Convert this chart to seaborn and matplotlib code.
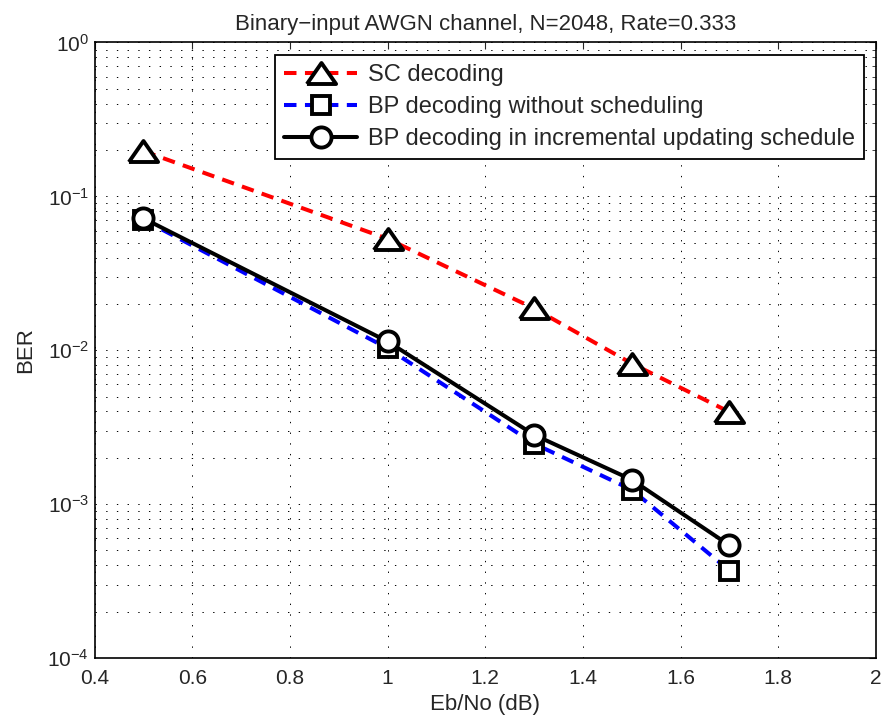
import numpy as np
import pandas as pd
import matplotlib
matplotlib.use("Agg")
import matplotlib.pyplot as plt
import seaborn as sns
from matplotlib.ticker import LogLocator, NullFormatter, FixedLocator

ebno = [0.5, 1.0, 1.3, 1.5, 1.7]
ber_sc = [0.197, 0.053, 0.0187, 0.0082, 0.00397]
ber_bp = [0.0705, 0.0103, 0.00247, 0.00124, 0.00037]
ber_inc = [0.072, 0.0114, 0.00282, 0.00144, 0.00054]
labels = ["SC decoding", "BP decoding without scheduling",
          "BP decoding in incremental updating schedule"]
xticks = [0.4, 0.6, 0.8, 1, 1.2, 1.4, 1.6, 1.8, 2]
xticklabels = ["0.4", "0.6", "0.8", "1", "1.2", "1.4", "1.6", "1.8", "2"]

sns.set_style("white")
plt.rcParams['font.family'] = ['Liberation Sans', 'DejaVu Sans']
plt.rcParams['font.size'] = 15
plt.rcParams['mathtext.fontset'] = 'custom'
plt.rcParams['mathtext.rm'] = 'Liberation Sans'
plt.rcParams['mathtext.it'] = 'Liberation Sans'
plt.rcParams['mathtext.default'] = 'regular'

fig = plt.figure(figsize=(8.85, 7.25), dpi=100)
ax = fig.add_axes([0.1068, 0.0924, 0.883, 0.849])

df = pd.DataFrame({"x": ebno * 3,
                   "y": ber_sc + ber_bp + ber_inc,
                   "s": [labels[0]] * 5 + [labels[1]] * 5 + [labels[2]] * 5})

tri = [(-1, -0.72), (1, -0.72), (0, 0.72), (-1, -0.72)]
dash = (0, (3.1, 2.1))
styles = [("red", tri, dash, 21), ("blue", "s", dash, 13), ("black", "o", "-", 14.5)]
for lab, (c, m, ls, ms) in zip(labels, styles):
    sub = df[df.s == lab]
    sns.lineplot(data=sub, x="x", y="y", ax=ax, color=c, linewidth=2.9,
                 linestyle=ls, marker=m, markersize=ms, markerfacecolor="white",
                 markeredgecolor="black", markeredgewidth=2.8, label=lab,
                 estimator=None, sort=False)

ax.set_yscale("log")
ax.set_xlim(0.4, 2)
ax.set_ylim(1e-4, 1)
ax.xaxis.set_major_locator(FixedLocator(xticks))
ax.set_xticklabels(xticklabels)
ax.yaxis.set_major_locator(LogLocator(base=10, numticks=10))
ax.yaxis.set_minor_locator(LogLocator(base=10, subs=np.arange(2, 10), numticks=50))
ax.yaxis.set_minor_formatter(NullFormatter())
ax.tick_params(which="both", direction="in", top=True, right=True, labelsize=15)
ax.tick_params(which="major", length=5, width=0.8)
ax.tick_params(which="minor", length=3, width=0.6)
ax.tick_params(axis="x", which="major", pad=8)
ax.tick_params(axis="y", which="major", pad=4)
grid_ls = (0, (1.4, 9.6))
ax.grid(True, which="major", axis="both", color="black", linestyle=grid_ls, linewidth=0.7)
ax.grid(True, which="minor", axis="y", color="black", linestyle=grid_ls, linewidth=0.7)
for sp in ax.spines.values():
    sp.set_color("black")
    sp.set_linewidth(1.2)

ax.set_title("Binary\u2212input AWGN channel, N=2048, Rate=0.333", fontsize=16, pad=9)
ax.set_xlabel("Eb/No (dB)", fontsize=16, labelpad=4)
ax.set_ylabel("BER", fontsize=16, labelpad=8)

leg = ax.legend(loc="upper right", bbox_to_anchor=(0.9846, 0.9797), borderaxespad=0,
                fontsize=17, frameon=True, fancybox=False, edgecolor="black",
                framealpha=1, handlelength=3.1, borderpad=0.38, labelspacing=0.42,
                handletextpad=0.45)
leg.get_frame().set_linewidth(1.3)

fig.savefig("out.png", dpi=100)
